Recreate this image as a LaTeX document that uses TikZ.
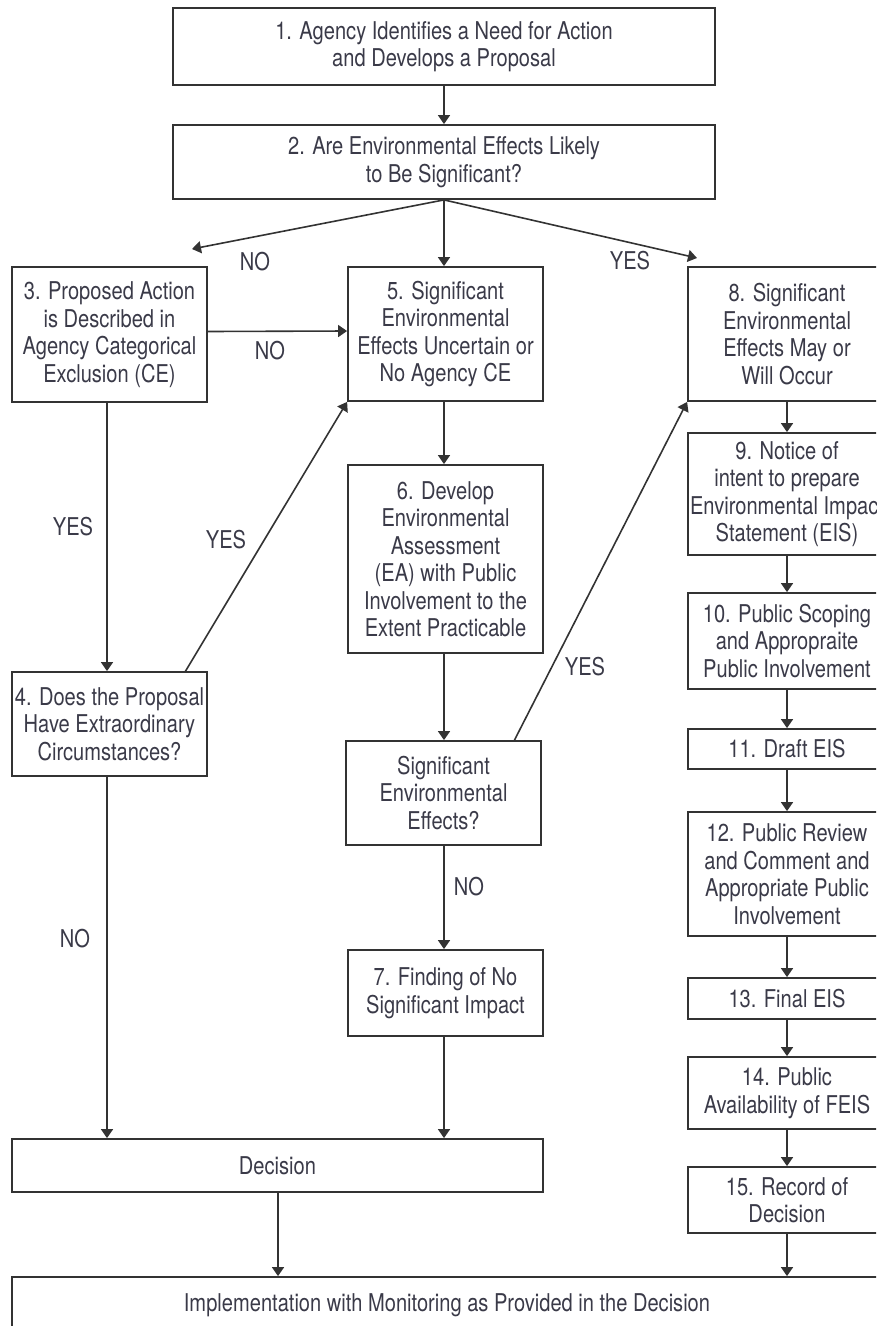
\documentclass[tikz,border=0pt]{standalone}
\usepackage{fontspec}
\setmainfont{TeX Gyre Heros}[FakeStretch=0.82]
\usetikzlibrary{arrows.meta}
\definecolor{ink}{HTML}{333333}
\definecolor{txt}{HTML}{3A3A48}
\begin{document}
\begin{tikzpicture}[x=1pt,y=-1pt,
  box/.style={draw=ink,line width=1.8pt,align=center,inner sep=0pt,text=txt,
    font=\fontsize{24.5}{27.5}\selectfont},
  lbl/.style={text=txt,font=\fontsize{24.5}{27.5}\selectfont,inner sep=0pt},
  arr/.style={draw=ink,line width=1.6pt,-{Triangle[width=12pt,length=9pt]}}]
\useasboundingbox (0,0) rectangle (876,1326);
\clip (0,0) rectangle (876,1326);
% left / middle columns
\node[box,minimum width=542pt,minimum height=77pt] (b1) at (444,46.5) {1. Agency Identifies a Need for Action\\and Develops a Proposal};
\node[box,minimum width=542pt,minimum height=74pt] (b2) at (444,162) {2. Are Environmental Effects Likely\\to Be Significant?};
\node[box,minimum width=195pt,minimum height=135pt] (b3) at (109.5,334.5) {3. Proposed Action\\is Described in\\Agency Categorical\\Exclusion (CE)};
\node[box,minimum width=195pt,minimum height=134pt] (b5) at (445.5,334) {5. Significant\\Environmental\\Effects Uncertain or\\No Agency CE};
\node[box,minimum width=198pt,minimum height=134pt] (b8) at (787,334) {8. Significant\\Environmental\\Effects May or\\Will Occur};
\node[box,minimum width=195pt,minimum height=104pt] (b4) at (109.5,724) {4. Does the Proposal\\Have Extraordinary\\Circumstances?};
\node[box,minimum width=195pt,minimum height=188pt] (b6) at (445.5,559) {6. Develop\\Environmental\\Assessment\\(EA) with Public\\Involvement to the\\Extent Practicable};
\node[box,minimum width=195pt,minimum height=104pt] (bs) at (443.5,793) {Significant\\Environmental\\Effects?};
\node[box,minimum width=195pt,minimum height=86pt] (b7) at (445.5,993) {7. Finding of No\\Significant Impact};
\node[box,minimum width=531pt,minimum height=53pt] (bd) at (277.5,1165.5) {Decision};
\node[box,minimum width=870pt,minimum height=56pt] (bi) at (447,1305) {Implementation with Monitoring as Provided in the Decision};
% right column
\node[box,minimum width=198pt,minimum height=122pt] (b9) at (787,494) {9. Notice of\\intent to prepare\\Environmental Impact\\Statement (EIS)};
\node[box,minimum width=198pt,minimum height=96pt] (b10) at (787,641) {10. Public Scoping\\and Appropraite\\Public Involvement};
\node[box,minimum width=198pt,minimum height=40pt] (b11) at (787,749) {11. Draft EIS};
\node[box,minimum width=198pt,minimum height=124pt] (b12) at (787,874) {12. Public Review\\and Comment and\\Appropriate Public\\Involvement};
\node[box,minimum width=198pt,minimum height=41pt] (b13) at (787,998.5) {13. Final EIS};
\node[box,minimum width=198pt,minimum height=72pt] (b14) at (787,1093) {14. Public\\Availability of FEIS};
\node[box,minimum width=198pt,minimum height=66pt] (b15) at (787,1200) {15. Record of\\Decision};
% free ends
\coordinate (noTip) at (192,249);
\coordinate (yesTip) at (697,258);
\coordinate (b4top) at (185,672);
\coordinate (bstop) at (514,741);
% connectors
\draw[arr] (b1.south) -- (b2.north);
\draw[arr] (b2.south) -- (noTip);
\draw[arr] (b2.south) -- (b5.north -| b2.south);
\draw[arr] (b2.south) -- (yesTip);
\draw[arr] ([yshift=3pt]b3.east) -- ([yshift=3pt]b5.west);
\draw[arr] ([xshift=-2.5pt]b3.south) -- ([xshift=-2.5pt]b4.north);
\draw[arr] (b4top) -- (b5.south west);
\draw[arr] ([xshift=-2.5pt]b4.south) -- ([xshift=-2.5pt]b4.south |- bd.north);
\draw[arr] ([xshift=-1.5pt]b5.south) -- ([xshift=-1.5pt]b6.north);
\draw[arr] ([xshift=-1.5pt]b6.south) -- ([xshift=-1.5pt]b6.south |- bs.north);
\draw[arr] ([xshift=0.5pt]bs.south) -- ([xshift=0.5pt]bs.south |- b7.north);
\draw[arr] (bstop) -- (b8.south west);
\draw[arr] ([xshift=-1.5pt]b7.south) -- ([xshift=-1.5pt]b7.south |- bd.north);
\draw[arr] ([xshift=0.5pt]bd.south) -- ([xshift=0.5pt]bd.south |- bi.north);
\draw[arr] (b8.south) -- (b9.north);
\draw[arr] (b9.south) -- (b10.north);
\draw[arr] (b10.south) -- (b11.north);
\draw[arr] (b11.south) -- (b12.north);
\draw[arr] (b12.south) -- (b13.north);
\draw[arr] (b13.south) -- (b14.north);
\draw[arr] (b14.south) -- (b15.north);
\draw[arr] (b15.south) -- (b15.south |- bi.north);
% labels
\node[lbl] (l1) at (255,262) {NO};
\node[lbl] (l2) at (630,261) {YES};
\node[lbl] (l3) at (270,351) {NO};
\node[lbl] (l4) at (73,527) {YES};
\node[lbl] (l5) at (226,540) {YES};
\node[lbl] (l6) at (75,939) {NO};
\node[lbl] (l7) at (585,667) {YES};
\node[lbl] (l8) at (469,887) {NO};
\end{tikzpicture}
\end{document}
